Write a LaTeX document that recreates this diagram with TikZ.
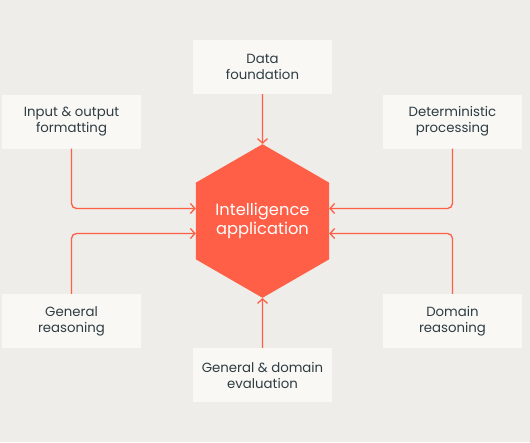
\documentclass[tikz,border=0pt]{standalone}
\usepackage{fontspec}
\setmainfont{Poppins}
\usetikzlibrary{arrows.meta,shapes.geometric,calc}

\definecolor{paper}{HTML}{EEEDE9}
\definecolor{boxfill}{HTML}{F9F8F4}
\definecolor{ink}{HTML}{2E3C44}
\definecolor{coral}{HTML}{FF5F46}

\begin{document}
\begin{tikzpicture}[
  x=1pt, y=-1pt,
  font=\fontsize{13.3}{16}\selectfont,
  box/.style={
    fill=boxfill,
    text=ink,
    align=center,
    minimum width=139pt,
    minimum height=54pt,
    inner sep=0pt
  },
  core/.style={
    regular polygon,
    regular polygon sides=6,
    shape border rotate=30,
    minimum size=148pt,
    inner sep=0pt,
    fill=coral,
    text=white,
    align=center,
    font=\fontsize{16.3}{19.5}\selectfont
  },
  arrow/.style={-{Straight Barb[length=4.5pt,width=10pt]}, line width=1.3pt, draw=coral, rounded corners=5pt}
]

% Canvas.
\useasboundingbox[fill=paper] (0,0) rectangle (530,442);

% Centre hexagon.
\node[core] (hex) at (262.5,221) {Intelligence\\application};

% Feeding blocks around it.
\node[box] (data)      at (262.5, 67)   {Data\\foundation};
\node[box] (inout)     at (71.5, 121.5) {Input \& output\\formatting};
\node[box] (determ)    at (452.5,121.5) {Deterministic\\processing};
\node[box] (genreason) at (71.5, 321)   {General\\reasoning};
\node[box] (domreason) at (452.5,321)   {Domain\\reasoning};
\node[box] (geneval)   at (262.5,375)   {General \& domain\\evaluation};

\draw[arrow] (data.south) -- (hex.north);
\draw[arrow] (geneval.north) -- (hex.south);

\draw[arrow] (inout.south) |- ($(hex.west)+(0,-12.5)$);
\draw[arrow] (genreason.north) |- ($(hex.west)+(0,12.5)$);
\draw[arrow] (determ.south) |- ($(hex.east)+(0,-12.5)$);
\draw[arrow] (domreason.north) |- ($(hex.east)+(0,12.5)$);

\end{tikzpicture}
\end{document}
